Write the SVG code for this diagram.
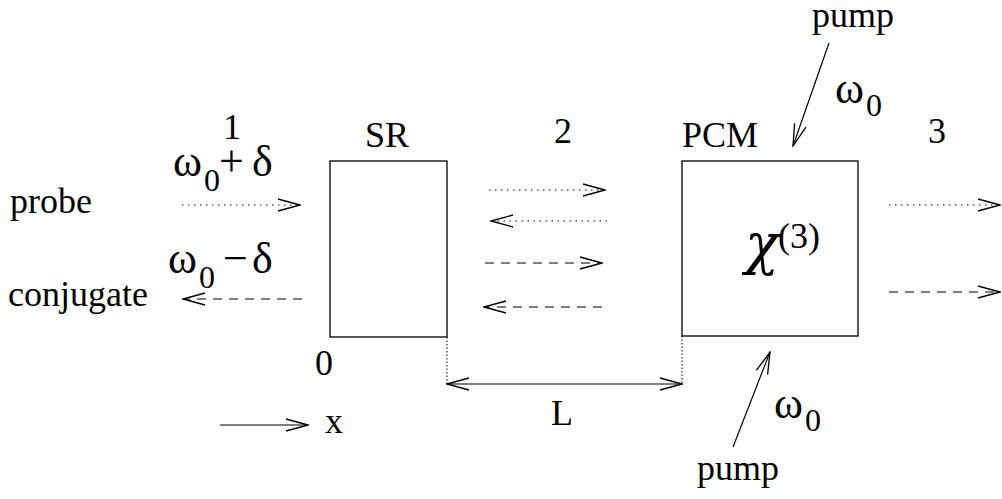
<svg xmlns="http://www.w3.org/2000/svg" width="1002" height="499" viewBox="0 0 1002 499">
<style>
.t{font-family:"Liberation Serif","Times New Roman",Times,serif;font-size:36px;fill:#000}
.g{font-family:"Liberation Serif","DejaVu Serif",serif;font-size:44px;fill:#000}
.s{font-size:32px}
.box{fill:#fff;stroke:#000;stroke-width:1.3}
.ln{stroke:#000;stroke-width:1.2;fill:none}
.dot{stroke-dasharray:1.5 4.5}
.dash{stroke-dasharray:9 7}
.ext{stroke:#000;stroke-width:1;stroke-dasharray:1.5 2;fill:none}
</style>
<defs>
<marker id="ah" viewBox="-23 -7 24 14" refX="0" refY="0" markerWidth="24" markerHeight="14" markerUnits="userSpaceOnUse" orient="auto">
<path d="M-22,-6 L0,0 L-22,6" fill="none" stroke="#000" stroke-width="1.3" stroke-dasharray="none"/>
</marker>
<marker id="ahs" viewBox="-23 -7 24 14" refX="0" refY="0" markerWidth="24" markerHeight="14" markerUnits="userSpaceOnUse" orient="auto-start-reverse">
<path d="M-22,-6 L0,0 L-22,6" fill="none" stroke="#000" stroke-width="1.3" stroke-dasharray="none"/>
</marker>
</defs>

<g id="SR">
<rect class="box" x="330" y="161" width="117" height="176"/>
<text class="t" x="365" y="147">SR</text>
</g>

<g id="PCM">
<rect class="box" x="682" y="161" width="176" height="175"/>
<text class="t" x="682" y="147">PCM</text>
<text x="745" y="263" font-family="'DejaVu Serif',serif" font-style="italic" font-size="56" fill="#000">χ</text>
<text class="t" x="778" y="248">(3)</text>
</g>

<g id="labels">
<text class="t" x="10" y="213">probe</text>
<text class="t" x="8" y="306">conjugate</text>
<text class="t" x="232" y="139" text-anchor="middle">1</text>
<text class="t" x="563" y="143" text-anchor="middle">2</text>
<text class="t" x="937" y="143" text-anchor="middle">3</text>
<text class="g" y="176"><tspan x="173">ω</tspan><tspan class="s" x="204" y="191">0</tspan><tspan x="219" y="176">+</tspan><tspan x="252">δ</tspan></text>
<text class="g" y="273"><tspan x="168">ω</tspan><tspan class="s" x="199" y="288">0</tspan><tspan x="223" y="273">−</tspan><tspan x="252">δ</tspan></text>
<text class="g" y="103"><tspan x="835">ω</tspan><tspan class="s" x="866" y="116">0</tspan></text>
<text class="g" y="418"><tspan x="774">ω</tspan><tspan class="s" x="805" y="431">0</tspan></text>
<text class="t" x="812" y="27">pump</text>
<text class="t" x="697" y="480">pump</text>
<text class="t" x="324" y="375" text-anchor="middle">0</text>
<text class="t" x="325" y="433">x</text>
<text class="t" x="562" y="425" text-anchor="middle">L</text>
</g>

<g id="connectors">
<line class="ln dot" x1="182" y1="205" x2="300" y2="205" marker-end="url(#ah)"/>
<line class="ln dash" x1="302" y1="299" x2="183" y2="299" marker-end="url(#ah)"/>
<line class="ln dot" x1="489" y1="190" x2="605" y2="190" marker-end="url(#ah)"/>
<line class="ln dot" x1="607" y1="221" x2="491" y2="221" marker-end="url(#ah)"/>
<line class="ln dash" x1="485" y1="263" x2="602" y2="263" marker-end="url(#ah)"/>
<line class="ln dash" x1="602" y1="307" x2="484" y2="307" marker-end="url(#ah)"/>
<line class="ln dot" x1="889" y1="205" x2="1000" y2="205" marker-end="url(#ah)"/>
<line class="ln dash" x1="889" y1="292" x2="1000" y2="292" marker-end="url(#ah)"/>
<line class="ln" x1="829" y1="43" x2="793" y2="146" marker-end="url(#ah)"/>
<line class="ln" x1="733" y1="447" x2="770" y2="352" marker-end="url(#ah)"/>
<line class="ext" x1="447" y1="337" x2="447" y2="384"/>
<line class="ext" x1="682" y1="336" x2="682" y2="384"/>
<line class="ln" x1="447" y1="384" x2="682" y2="384" marker-start="url(#ahs)" marker-end="url(#ah)"/>
<line class="ln" x1="220" y1="425" x2="308" y2="425" marker-end="url(#ah)"/>
</g>
</svg>
